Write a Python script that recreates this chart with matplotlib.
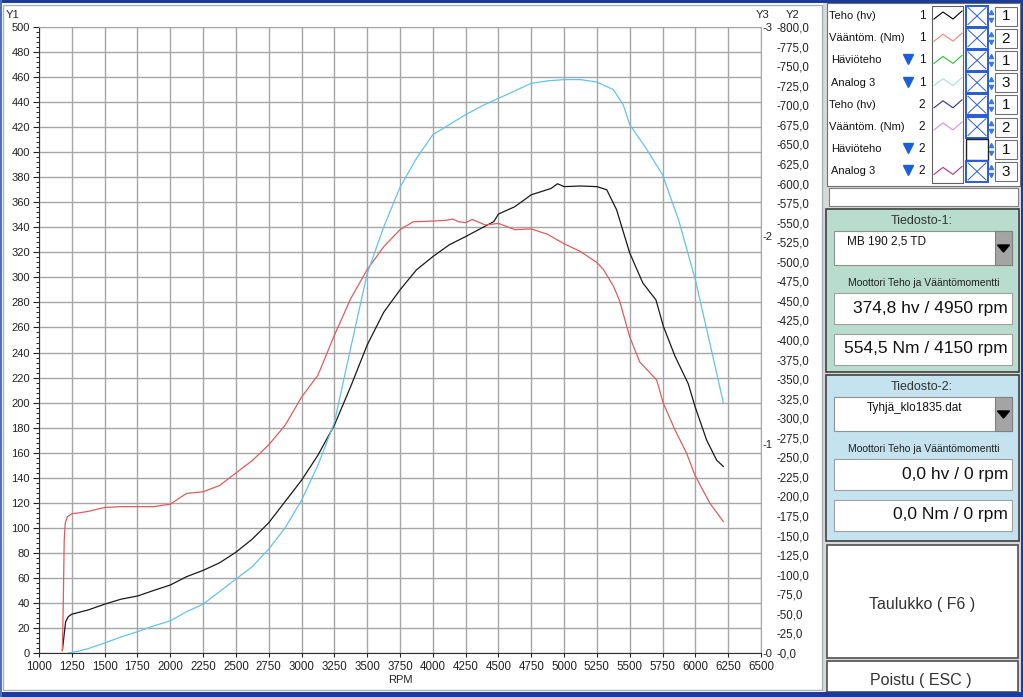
import numpy as np
import matplotlib.pyplot as plt
from matplotlib.patches import Rectangle, Polygon

plt.rcParams['font.family'] = ['Liberation Sans', 'DejaVu Sans']

# Teho (hv) -> axis Y1
teho_rpm = [1178, 1193, 1203, 1223, 1250, 1375, 1500, 1625, 1750, 1875, 2000, 2125, 2250,
            2375, 2500, 2625, 2750, 2875, 3000, 3125, 3250, 3375, 3500, 3625, 3750, 3875,
            4000, 4125, 4250, 4400, 4464, 4500, 4625, 4750, 4900, 4950, 5000, 5125, 5250,
            5325, 5400, 5500, 5600, 5700, 5756, 5845, 5946, 5997, 6086, 6162, 6213]
teho_hv = [2, 16, 25, 29, 31, 34.4, 39, 43, 45.5, 50, 54.3, 61, 66,
           72, 80.5, 91, 104, 121, 138, 158, 182, 213, 246, 272, 290, 306,
           316.6, 326, 332.6, 341, 344.5, 350.6, 356.5, 366, 371, 374.8, 372.5, 373, 372.5,
           370, 354, 319.5, 295.5, 282, 261, 237, 215, 197, 170, 154, 149]

# Vaantomomentti (Nm) -> axis Y2
vaanto_rpm = [1178, 1185, 1192, 1200, 1215, 1250, 1300, 1375, 1450, 1500, 1625, 1750, 1875,
              1950, 2000, 2060, 2125, 2250, 2375, 2500, 2625, 2750, 2875, 3000, 3125, 3250,
              3375, 3500, 3625, 3750, 3850, 4000, 4100, 4150, 4200, 4250, 4300, 4400, 4500,
              4625, 4750, 4875, 5000, 5125, 5250, 5300, 5375, 5421, 5500, 5576, 5705, 5756,
              5845, 5934, 5997, 6112, 6213]
vaanto_nm = [3, 64, 144, 166, 174, 178, 179, 181, 184, 186, 187, 187, 187,
             189, 190, 197, 204, 206, 214, 230, 246, 266, 291, 327, 355, 406,
             453, 490, 519, 541, 551, 552, 553, 554.5, 551, 550, 554, 547, 549,
             541, 542, 535, 523, 513, 499, 490, 469, 451, 404, 372, 349, 319,
             285, 255, 227, 191, 168]

# Analog 3 -> axis Y3
analog_rpm = [1223, 1300, 1375, 1500, 1625, 1750, 1875, 2000, 2125, 2250, 2375, 2500, 2625,
              2750, 2875, 3000, 3125, 3250, 3354, 3500, 3625, 3750, 3875, 4000, 4125, 4250,
              4375, 4500, 4625, 4750, 4875, 5000, 5125, 5250, 5375, 5450, 5500, 5625, 5750,
              5875, 6000, 6035, 6122, 6213]
analog_val = [0.0, 0.009, 0.021, 0.048, 0.077, 0.102, 0.130, 0.154, 0.198, 0.234, 0.294, 0.354, 0.414,
              0.498, 0.600, 0.732, 0.900, 1.104, 1.404, 1.818, 2.040, 2.232, 2.370, 2.484, 2.532, 2.580,
              2.622, 2.658, 2.694, 2.730, 2.742, 2.748, 2.748, 2.736, 2.700, 2.628, 2.532, 2.418, 2.292,
              2.070, 1.788, 1.692, 1.452, 1.200]

x_ticks = list(range(1000, 6501, 250))
y1_ticks = list(range(0, 501, 20))
y2_ticks = list(range(0, 801, 25))
y3_ticks = [0, 1, 2, 3]

legend_names = ['Teho (hv)', 'Vääntöm. (Nm)', 'Häviöteho', 'Analog 3',
                'Teho (hv)', 'Vääntöm. (Nm)', 'Häviöteho', 'Analog 3']
legend_file = ['1', '1', '1', '1', '2', '2', '2', '2']
legend_axis = ['1', '2', '1', '3', '1', '2', '1', '3']
legend_arrow = [False, False, True, True, False, False, True, True]
legend_colors = ['#000000', '#f08080', '#30c030', '#a8dce4',
                 '#303090', '#d890d8', None, '#c03080']
legend_checked = [True, True, True, True, True, True, False, True]

file1_name = 'MB 190 2,5 TD'
file1_power = '374,8 hv / 4950 rpm'
file1_torque = '554,5 Nm / 4150 rpm'
file2_name = 'Tyhjä_klo1835.dat'
file2_power = '0,0 hv / 0 rpm'
file2_torque = '0,0 Nm / 0 rpm'

W, H = 1023, 697
fig = plt.figure(figsize=(W / 100, H / 100), dpi=100, facecolor='white')

# pixel-space overlay for the window / side panel
ui = fig.add_axes([0, 0, 1, 1])
ui.set_xlim(0, W)
ui.set_ylim(H, 0)
ui.axis('off')


def box(x0, y0, x1, y1, fc, ec='#808080', lw=0.8, z=1):
    ui.add_patch(Rectangle((x0, y0), x1 - x0, y1 - y0, facecolor=fc,
                           edgecolor=ec, lw=lw, zorder=z))


# window frame
box(823, 0, W, H, '#d8d8d8', ec='none', z=0)
box(3, 5, 822, 690, 'white', ec='#a8b0c0', lw=1.0, z=0.5)
box(0, 0, W, 3, '#1c3c9c', ec='none', z=5)
box(0, 692, W, H, '#1c3c9c', ec='none', z=5)
box(0, 0, 1.5, H, '#5070b8', ec='none', z=5)
box(1021, 0, W, H, '#1c3c9c', ec='none', z=5)

ui.text(13, 15, 'Y1', fontsize=8, ha='center', va='center', color='#222')
ui.text(763, 15, 'Y3', fontsize=8, ha='center', va='center', color='#222')
ui.text(793, 15, 'Y2', fontsize=8, ha='center', va='center', color='#222')

# legend table
box(827, 3, 1020, 186, 'white', ec='#707070', z=1)
box(932, 6, 963, 183, 'white', ec='#606060', z=2)
for i in range(8):
    yc = 16 + 22.2 * i
    xt = 831 if legend_arrow[i] else 829
    ui.text(xt, yc, legend_names[i], fontsize=8, va='center', color='#111', zorder=3)
    ui.text(922, yc, legend_file[i], fontsize=8.5, ha='center', va='center', color='#111', zorder=3)
    if legend_arrow[i]:
        ui.plot(908, yc - 1, marker='v', ms=7.5, color='#1a5fd8', mec='#1a5fd8', zorder=3)
    if legend_colors[i]:
        ui.plot([934, 943, 953, 962], [yc + 3, yc - 4, yc + 3, yc - 5],
                color=legend_colors[i], lw=0.8, zorder=3)
    if legend_checked[i]:
        box(966, yc - 10.5, 988, yc + 10.5, 'white', ec='#2a5bd7', lw=1.4, z=2)
        ui.plot([968, 986], [yc - 8.5, yc + 8.5], color='#2a5bd7', lw=0.7, zorder=3)
        ui.plot([968, 986], [yc + 8.5, yc - 8.5], color='#2a5bd7', lw=0.7, zorder=3)
    else:
        box(966, yc - 10.5, 988, yc + 10.5, 'white', ec='#202020', lw=1.0, z=2)
    ui.plot(991, yc - 4, marker='^', ms=3, color='#3a78e0', zorder=3)
    ui.plot(991, yc + 4, marker='v', ms=3, color='#3a78e0', zorder=3)
    box(995, yc - 9.5, 1017, yc + 9.5, 'white', ec='#707070', z=2)
    ui.text(1006, yc + 0.5, legend_axis[i], fontsize=11, ha='center', va='center', color='#111', zorder=3)

box(829, 188, 1018, 206, 'white', ec='#808080', z=1)


def file_panel(top, bottom, color, title, name, power, torque, name_centered):
    box(826, top, 1019, bottom, color, ec='#404040', lw=1.2, z=1)
    ui.text(922, top + 12, title, fontsize=9, ha='center', va='center', color='#333', zorder=3)
    box(834, top + 22, 1012, top + 56, 'white', ec='#909090', z=2)
    box(995, top + 22, 1012, top + 56, '#a4a4a4', ec='#808080', z=2)
    ui.add_patch(Polygon([[997.5, top + 36], [1009.5, top + 36], [1003.5, top + 43]],
                         closed=True, color='black', zorder=3))
    if name_centered:
        ui.text(915, top + 33, name, fontsize=8.5, ha='center', va='center', color='#111', zorder=3)
    else:
        ui.text(847, top + 32, name, fontsize=8.5, ha='left', va='center', color='#111', zorder=3)
    ui.text(924, top + 74, 'Moottori Teho ja Vääntömomentti', fontsize=7.5,
            ha='center', va='center', color='#222', zorder=3)
    box(834, top + 84, 1012, top + 115, 'white', ec='#a0a0a0', z=2)
    ui.text(1008, top + 99, power, fontsize=12.5, ha='right', va='center', color='#111', zorder=3)
    box(834, top + 125, 1012, top + 156, 'white', ec='#a0a0a0', z=2)
    ui.text(1008, top + 139, torque, fontsize=12.5, ha='right', va='center', color='#111', zorder=3)


file_panel(209, 372, '#b8dccd', 'Tiedosto-1:', file1_name, file1_power, file1_torque, False)
file_panel(375, 541, '#c4e3ee', 'Tiedosto-2:', file2_name, file2_power, file2_torque, True)

box(827, 545, 1018, 658, 'white', ec='#505050', lw=1.2, z=1)
ui.text(922, 604, 'Taulukko ( F6 )', fontsize=11.5, ha='center', va='center', color='#333', zorder=3)
box(827, 661, 1018, 692, 'white', ec='#505050', lw=1.2, z=1)
ui.text(921, 680, 'Poistu ( ESC )', fontsize=11.5, ha='center', va='center', color='#333', zorder=3)

# main chart
ax = fig.add_axes([39 / W, 1 - 653 / H, 722 / W, 626 / H])
ax.set_facecolor('white')
ax.set_xlim(1000, 6500)
ax.set_ylim(0, 500)
ax.set_xticks(x_ticks)
ax.set_yticks(y1_ticks)
ax.set_yticks(np.arange(0, 501, 4), minor=True)
ax.grid(True, which='major', color='#a6a6a6', lw=1.0)
ax.tick_params(axis='y', which='major', direction='out', length=4.5, width=0.8,
               pad=2, labelsize=8, colors='#222')
ax.tick_params(axis='y', which='minor', direction='out', length=2.2, width=0.7, colors='#222')
ax.tick_params(axis='x', direction='out', length=3, width=0.8, pad=3, labelsize=8.3, colors='#222')
ax.set_xlabel('RPM', fontsize=8, labelpad=1, color='#222')
for s in ['top', 'right']:
    ax.spines[s].set_color('#a6a6a6')
for s in ['left', 'bottom']:
    ax.spines[s].set_color('#303030')
ax.plot(teho_rpm, teho_hv, color='#1a1a1a', lw=0.9)

ax2 = ax.twinx()
ax2.set_ylim(0, 800)
ax2.set_yticks(y2_ticks)
ax2.set_yticklabels([f'-{v},0' for v in y2_ticks])
ax2.spines['right'].set_position(('outward', 10))
for s in ax2.spines.values():
    s.set_visible(False)
ax2.tick_params(axis='y', length=0, pad=1, labelsize=8.3, colors='#222')
ax2.plot(vaanto_rpm, vaanto_nm, color='#de5c5c', lw=0.9)

ax3 = ax.twinx()
ax3.set_ylim(0, 3)
ax3.set_yticks(y3_ticks)
ax3.set_yticklabels([f'-{v}' for v in y3_ticks])
for s in ax3.spines.values():
    s.set_visible(False)
ax3.tick_params(axis='y', length=0, pad=1, labelsize=8, colors='#222')
ax3.plot(analog_rpm, analog_val, color='#62c4e4', lw=0.9)

fig.savefig('out.png', dpi=100)
